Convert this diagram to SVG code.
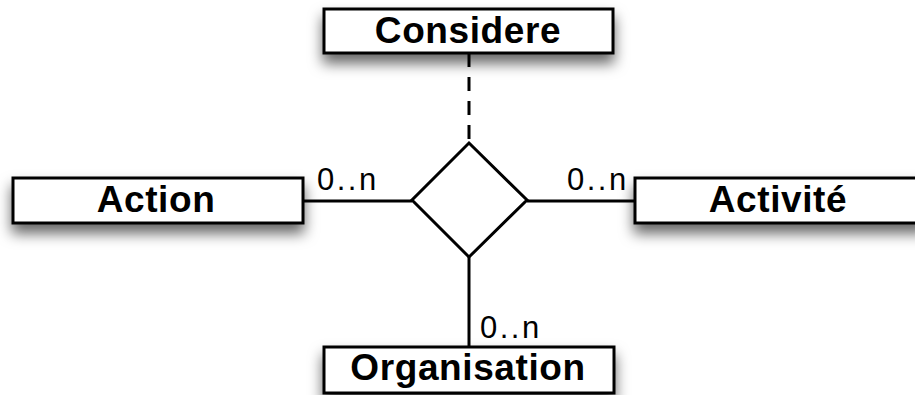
<svg xmlns="http://www.w3.org/2000/svg" width="915" height="395" viewBox="0 0 915 395">
<defs>
<filter id="sh" x="-20%" y="-60%" width="140%" height="240%">
<feDropShadow dx="0" dy="9" stdDeviation="7" flood-color="#000" flood-opacity="0.6"/>
</filter>
</defs>
<style>
.box{fill:#fff;stroke:#000;stroke-width:3;filter:url(#sh)}
.t{font-family:"Liberation Sans",Arial,sans-serif;font-weight:bold;font-size:37px;letter-spacing:0.6px;text-anchor:middle;fill:#000}
.c{font-family:"Liberation Sans",Arial,sans-serif;font-size:31px;letter-spacing:2.5px;fill:#000}
.ln{stroke:#000;stroke-width:3;fill:none}
</style>
<rect width="915" height="395" fill="#fff"/>
<g id="connectors">
<line class="ln" x1="469" y1="53" x2="469" y2="143" stroke-dasharray="14,10"/>
<line class="ln" x1="303" y1="201" x2="412" y2="201"/>
<line class="ln" x1="527" y1="201" x2="635" y2="201"/>
<line class="ln" x1="469" y1="257" x2="469" y2="347"/>
<text class="c" x="317" y="190">0..n</text>
<text class="c" x="567" y="190">0..n</text>
<text class="c" x="480" y="338">0..n</text>
</g>
<g id="relation">
<polygon class="ln" points="469,143 527,200 469,257 412,200" fill="#fff"/>
</g>
<g id="considere">
<rect class="box" x="324" y="9" width="289" height="44"/>
<text class="t" x="468" y="43">Considere</text>
</g>
<g id="action">
<rect class="box" x="13" y="178" width="290" height="45"/>
<text class="t" x="156" y="212">Action</text>
</g>
<g id="activite">
<rect class="box" x="635" y="178" width="290" height="45"/>
<text class="t" x="778" y="212">Activité</text>
</g>
<g id="organisation">
<rect class="box" x="324" y="347" width="290" height="46"/>
<text class="t" x="468" y="380">Organisation</text>
</g>
</svg>
